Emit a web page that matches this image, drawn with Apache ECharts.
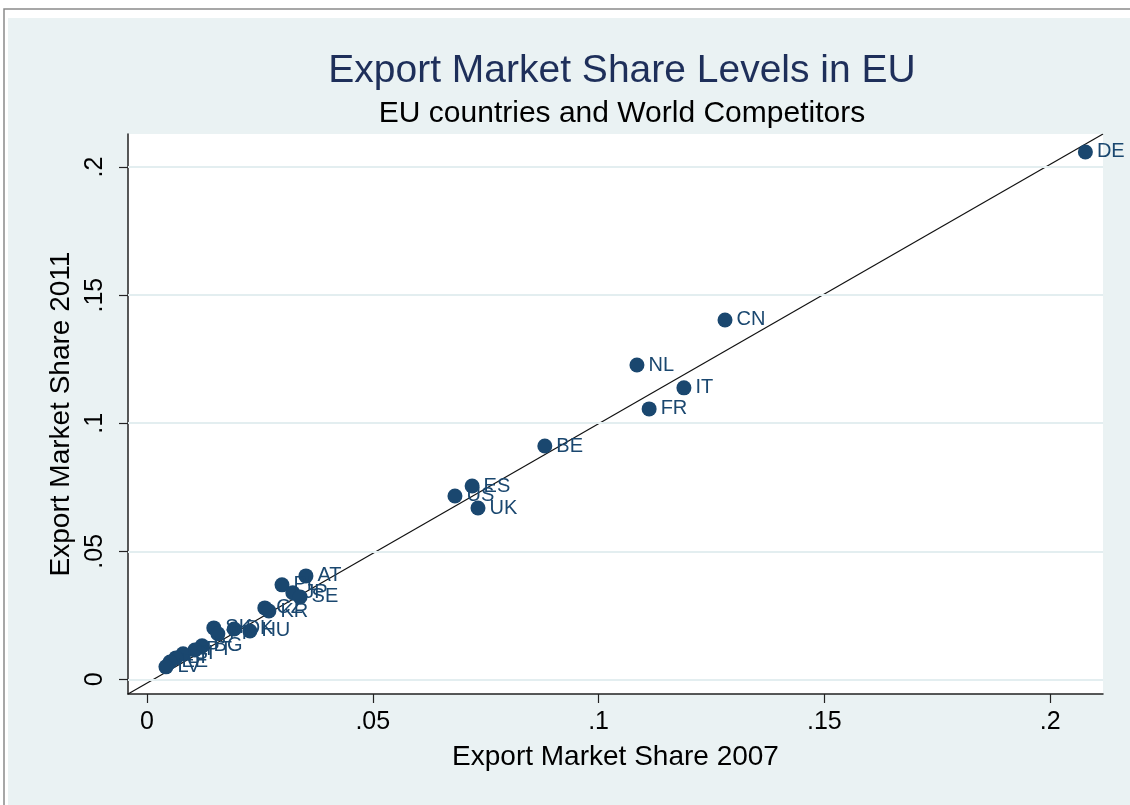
<!DOCTYPE html>
<html>
<head>
<meta charset="utf-8">
<title>Export Market Share Levels in EU</title>
<script src="https://cdn.jsdelivr.net/npm/echarts@6/dist/echarts.min.js"></script>
<style>
  html, body { margin: 0; padding: 0; background: #ffffff; }
  #chart { width: 1130px; height: 805px; }
</style>
</head>
<body>
<div id="chart"></div>
<script>
// Country codes and their export market shares (2007 vs 2011)
const countries = ['DE', 'CN', 'NL', 'IT', 'FR', 'BE', 'ES', 'US', 'UK', 'AT', 'PL', 'JP', 'SE', 'CZ', 'KR', 'HU', 'DK', 'SK', 'FI', 'BG', 'PT', 'SI', 'LT', 'EE', 'LV'];
const share2007 = [0.2078, 0.1280, 0.1085, 0.1189, 0.1112, 0.0881, 0.0720, 0.0682, 0.0733, 0.0352, 0.0299, 0.0323, 0.0339, 0.0261, 0.0270, 0.0228, 0.0193, 0.0148, 0.0157, 0.0122, 0.0106, 0.0080, 0.0064, 0.0051, 0.0042];
const share2011 = [0.2059, 0.1403, 0.1227, 0.1138, 0.1056, 0.0911, 0.0755, 0.0716, 0.0669, 0.0404, 0.0369, 0.0338, 0.0322, 0.0279, 0.0267, 0.0189, 0.0197, 0.0201, 0.0178, 0.0131, 0.0115, 0.0100, 0.0084, 0.0068, 0.0049];

// Tick positions shown on both axes
const ticks = [0, 0.05, 0.1, 0.15, 0.2];

// Axis extents
const xMin = -0.0042, xMax = 0.2117;
const yMin = -0.0057, yMax = 0.2129;

const navy = '#1a476f';
const font = 'Liberation Sans, Arial, sans-serif';
const fmt = v => (v === 0 ? '0' : String(+v.toFixed(2)).replace(/^0/, ''));

const points = countries.map((c, i) => ({ name: c, value: [share2007[i], share2011[i]] }));

const chart = echarts.init(document.getElementById('chart'), null, { renderer: 'canvas' });

chart.setOption({
  backgroundColor: '#ffffff',
  animation: false,
  graphic: [
    { type: 'rect', z: -10, shape: { x: 4, y: 9, width: 1130, height: 800 }, style: { fill: '#ffffff', stroke: '#8a8a8a', lineWidth: 1.5 } },
    { type: 'rect', z: -9, shape: { x: 8, y: 18, width: 1125, height: 790 }, style: { fill: '#eaf2f3' } }
  ],
  title: {
    text: 'Export Market Share Levels in EU',
    subtext: 'EU countries and World Competitors',
    left: 617,
    textAlign: 'center',
    top: 47,
    itemGap: 8,
    textStyle: { fontFamily: font, fontSize: 39, fontWeight: 'normal', color: '#1e2f5a' },
    subtextStyle: { fontFamily: font, fontSize: 30, color: '#000000' }
  },
  grid: {
    left: 128, right: 27, top: 134, bottom: 111,
    show: true, backgroundColor: '#ffffff', borderWidth: 0
  },
  xAxis: {
    type: 'value',
    min: xMin, max: xMax,
    name: 'Export Market Share 2007',
    nameLocation: 'middle',
    nameGap: 49,
    nameTextStyle: { fontFamily: font, fontSize: 28, color: '#000000' },
    axisLine: { show: true, onZero: false, lineStyle: { color: '#222', width: 1.5 } },
    axisTick: { show: true, inside: false, length: 9, customValues: ticks, lineStyle: { color: '#222', width: 1.2 } },
    axisLabel: { customValues: ticks, formatter: fmt, margin: 16, fontFamily: font, fontSize: 25, color: '#000000' },
    splitLine: { show: false }
  },
  yAxis: {
    type: 'value',
    min: yMin, max: yMax,
    name: 'Export Market Share 2011',
    nameLocation: 'middle',
    nameGap: 44,
    nameTextStyle: { fontFamily: font, fontSize: 28, color: '#000000' },
    axisLine: { show: true, onZero: false, lineStyle: { color: '#222', width: 1.5 } },
    axisTick: { show: true, inside: false, length: 9, customValues: ticks, lineStyle: { color: '#222', width: 1.2 } },
    axisLabel: { customValues: ticks, formatter: fmt, rotate: 90, margin: 20, fontFamily: font, fontSize: 25, color: '#000000' },
    splitLine: { show: false }
  },
  series: [
    {
      // horizontal grid lines at each tick
      type: 'line',
      data: [],
      silent: true,
      markLine: {
        symbol: 'none',
        silent: true,
        label: { show: false },
        lineStyle: { color: '#e3eef0', width: 2, type: 'solid' },
        data: ticks.map(t => ({ yAxis: t }))
      },
      z: 1
    },
    {
      // 45-degree reference line across the plot
      type: 'line',
      data: [[xMin, yMin], [xMax, yMax]],
      showSymbol: false,
      silent: true,
      lineStyle: { color: '#111111', width: 1.2 },
      z: 2
    },
    {
      type: 'scatter',
      data: points,
      symbol: 'circle',
      symbolSize: 15,
      itemStyle: { color: navy, opacity: 1 },
      label: {
        show: true,
        position: 'right',
        distance: 4,
        formatter: '{b}',
        fontFamily: font,
        fontSize: 20,
        color: navy
      },
      z: 3
    }
  ]
});
</script>
</body>
</html>
